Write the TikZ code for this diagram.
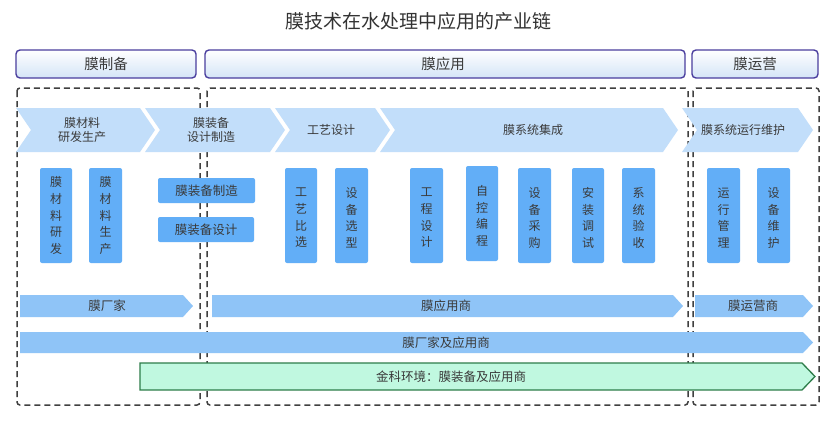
\documentclass[tikz,border=0pt]{standalone}
\usepackage{fontspec}
\setmainfont{Noto Sans CJK SC}
\definecolor{hdrborder}{HTML}{4A3E9E}
\definecolor{hdrfill}{HTML}{D4E4F7}
\definecolor{chevfill}{HTML}{C2DEFA}
\definecolor{boxfill}{HTML}{62AEF7}
\definecolor{barfill}{HTML}{8FC4F7}
\definecolor{greenfill}{HTML}{C0F8E0}
\definecolor{greenline}{HTML}{2E7D4A}
\definecolor{dashcol}{HTML}{404040}
\definecolor{txt}{HTML}{3A3A3A}
\tikzset{
  hdr/.style={draw=hdrborder, line width=1.4pt, rounded corners=4pt, top color=white, bottom color=hdrfill},
  grp/.style={draw=dashcol, line width=1.5pt, dash pattern=on 6pt off 4pt, rounded corners=3pt},
  chev/.style={fill=chevfill, draw=none},
  vbox/.style={fill=boxfill, draw=none, rounded corners=2pt},
  bar/.style={fill=barfill, draw=none},
  gbar/.style={fill=greenfill, draw=greenline, line width=1.3pt},
  lbl/.style={text=txt, font=\fontsize{12}{14}\selectfont, align=center, inner sep=0pt},
  vlbl/.style={text=txt, font=\fontsize{12}{16.6}\selectfont, align=center, inner sep=0pt},
  hlbl/.style={text=txt, font=\fontsize{14.5}{16}\selectfont, inner sep=0pt},
}
\begin{document}
\begin{tikzpicture}[x=1pt, y=-1pt]
\useasboundingbox (0,0) rectangle (831,423);
\fill[white] (0,0) rectangle (831,423);
% title
\node[text=black!80, font=\fontsize{19}{21}\selectfont, inner sep=0pt] (title) at (418,21) {膜技术在水处理中应用的产业链};
% headers
\draw[hdr] (16,50) rectangle (196,78);
\node[hlbl] (h1) at (106,64) {膜制备};
\draw[hdr] (205,50) rectangle (685,78);
\node[hlbl] (h2) at (443,64) {膜应用};
\draw[hdr] (692,50) rectangle (818,78);
\node[hlbl] (h3) at (755,64) {膜运营};
% dashed groups
\draw[grp] (17,88) rectangle (200,405);
\draw[grp] (207,88) rectangle (688,405);
\draw[grp] (693,88) rectangle (819,405);
% chevrons
\fill[chev] (16,108) -- (140,108) -- (155,130) -- (140,152) -- (16,152) -- (31,130) -- cycle;
\node[lbl] (c1) at (82,130) {膜材料\\研发生产};
\fill[chev] (145,108) -- (270,108) -- (285,130) -- (270,152) -- (145,152) -- (160,130) -- cycle;
\node[lbl] (c2) at (211,130) {膜装备\\设计制造};
\fill[chev] (275,108) -- (375,108) -- (390,130) -- (375,152) -- (275,152) -- (290,130) -- cycle;
\node[lbl] (c3) at (331,130) {工艺设计};
\fill[chev] (380,108) -- (663,108) -- (678,130) -- (663,152) -- (380,152) -- (395,130) -- cycle;
\node[lbl] (c4) at (533,130) {膜系统集成};
\fill[chev] (682,108) -- (798,108) -- (813,130) -- (798,152) -- (682,152) -- (697,130) -- cycle;
\node[lbl] (c5) at (743,130) {膜系统运行维护};
% vertical boxes
\fill[vbox] (40,168) rectangle (72,263);
\node[vlbl] (v1) at (56,215.5) {膜\\材\\料\\研\\发};
\fill[vbox] (89,168) rectangle (122,263);
\node[vlbl] (v2) at (105.5,215.5) {膜\\材\\料\\生\\产};
\fill[vbox] (158,178) rectangle (255,203);
\node[lbl, font=\fontsize{12.5}{14}\selectfont] (v3) at (206.5,190.5) {膜装备制造};
\fill[vbox] (158,217) rectangle (254,242);
\node[lbl, font=\fontsize{12.5}{14}\selectfont] (v4) at (206,229.5) {膜装备设计};
\fill[vbox] (285,168) rectangle (317,263);
\node[vlbl] (v5) at (301,218) {工\\艺\\比\\选};
\fill[vbox] (335,168) rectangle (368,263);
\node[vlbl] (v6) at (351.5,218) {设\\备\\选\\型};
\fill[vbox] (410,168) rectangle (443,263);
\node[vlbl] (v7) at (426.5,218) {工\\程\\设\\计};
\fill[vbox] (466,166) rectangle (498,261);
\node[vlbl] (v8) at (482,216) {自\\控\\编\\程};
\fill[vbox] (518,168) rectangle (551,263);
\node[vlbl] (v9) at (534.5,218) {设\\备\\采\\购};
\fill[vbox] (572,168) rectangle (604,263);
\node[vlbl] (v10) at (588,218) {安\\装\\调\\试};
\fill[vbox] (622,168) rectangle (655,263);
\node[vlbl] (v11) at (638.5,218) {系\\统\\验\\收};
\fill[vbox] (707,168) rectangle (740,263);
\node[vlbl] (v12) at (723.5,218) {运\\行\\管\\理};
\fill[vbox] (757,168) rectangle (790,263);
\node[vlbl] (v13) at (773.5,218) {设\\备\\维\\护};
% bottom bars
\fill[bar] (20,295) -- (183,295) -- (193,306) -- (183,317) -- (20,317) -- cycle;
\node[lbl, font=\fontsize{12.5}{14}\selectfont] (b1) at (107,306) {膜厂家};
\fill[bar] (212,295) -- (673,295) -- (683,306) -- (673,317) -- (212,317) -- cycle;
\node[lbl, font=\fontsize{12.5}{14}\selectfont] (b2) at (446,306) {膜应用商};
\fill[bar] (695,295) -- (803,295) -- (813,306) -- (803,317) -- (695,317) -- cycle;
\node[lbl, font=\fontsize{12.5}{14}\selectfont] (b3) at (753,306) {膜运营商};
\fill[bar] (20,332) -- (803,332) -- (813,342.5) -- (803,353) -- (20,353) -- cycle;
\node[lbl, font=\fontsize{12.5}{14}\selectfont] (b4) at (446,342.5) {膜厂家及应用商};
\draw[gbar] (140,363) -- (802,363) -- (815,376.5) -- (802,390) -- (140,390) -- cycle;
\node[lbl, font=\fontsize{12.5}{14}\selectfont] (b5) at (451,376.5) {金科环境：膜装备及应用商};
\end{tikzpicture}
\end{document}
